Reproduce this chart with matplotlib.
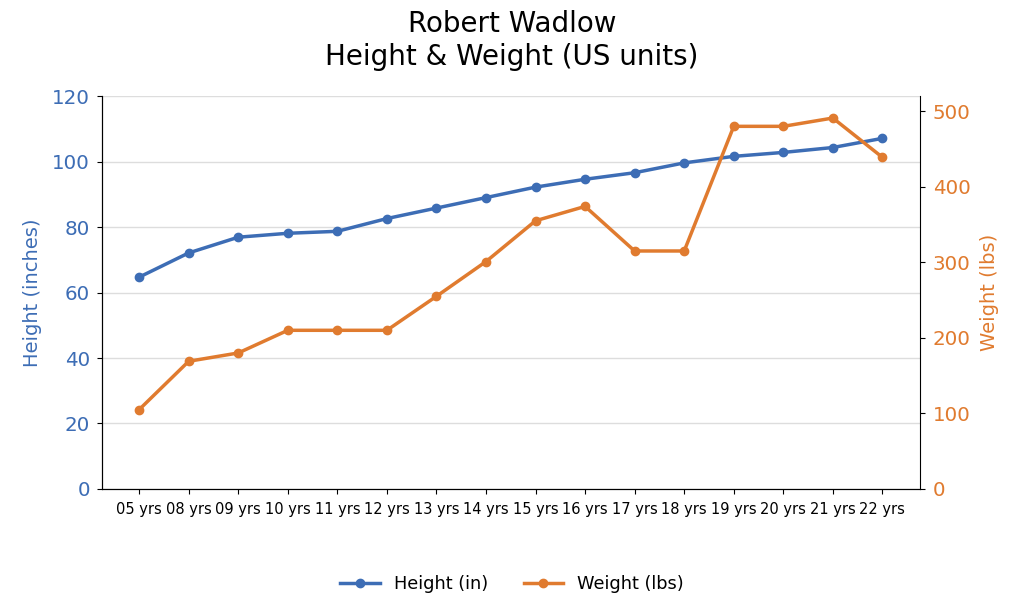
import matplotlib
matplotlib.use("Agg")
import matplotlib.pyplot as plt

ages = ["05 yrs", "08 yrs", "09 yrs", "10 yrs", "11 yrs", "12 yrs", "13 yrs", "14 yrs",
        "15 yrs", "16 yrs", "17 yrs", "18 yrs", "19 yrs", "20 yrs", "21 yrs", "22 yrs"]
height_in = [64.7, 72.1, 76.9, 78.1, 78.7, 82.6, 85.8, 89.0,
             92.2, 94.6, 96.6, 99.6, 101.6, 102.8, 104.3, 107.1]
weight_lbs = [105, 169, 180, 210, 210, 210, 255, 301,
              355, 374, 315, 315, 480, 480, 491, 439]

blue = "#3d6db5"
orange = "#e07b2f"

fig, ax = plt.subplots(figsize=(10.24, 5.97), dpi=100)
fig.subplots_adjust(left=0.0996, right=0.898, top=0.839, bottom=0.181)

x = range(len(ages))
l1, = ax.plot(x, height_in, color=blue, lw=2.5, marker="o", ms=6, label="Height (in)")
ax2 = ax.twinx()
l2, = ax2.plot(x, weight_lbs, color=orange, lw=2.5, marker="o", ms=6, label="Weight (lbs)")

ax.set_ylim(0, 120)
ax2.set_ylim(0, 520)
ax2.set_yticks([0, 100, 200, 300, 400, 500])
ax.set_xticks(list(x))
ax.set_xticklabels(ages, fontsize=10.5)

ax.grid(axis="y", color="#dddddd", lw=1)
ax.set_axisbelow(True)
for a in (ax, ax2):
    a.spines["top"].set_visible(False)
ax.spines["right"].set_visible(False)

ax.tick_params(axis="y", colors=blue, labelsize=14.3, pad=5)
ax.tick_params(axis="x", labelsize=10.5, pad=6)
ax2.tick_params(axis="y", colors=orange, labelsize=14.3, pad=6)
for a in (ax, ax2):
    a.tick_params(axis="y", color="black")
ax.set_ylabel("Height (inches)", color=blue, fontsize=14, labelpad=7)
ax2.set_ylabel("Weight (lbs)", color=orange, fontsize=14, labelpad=7)

fig.suptitle("Robert Wadlow\nHeight & Weight (US units)", fontsize=20, y=0.983)
fig.legend(handles=[l1, l2], loc="lower center", ncol=2, frameon=False,
           fontsize=12.8, bbox_to_anchor=(0.5, -0.02), columnspacing=2.0,
           handlelength=2.2)

fig.savefig("out.png", dpi=100)
